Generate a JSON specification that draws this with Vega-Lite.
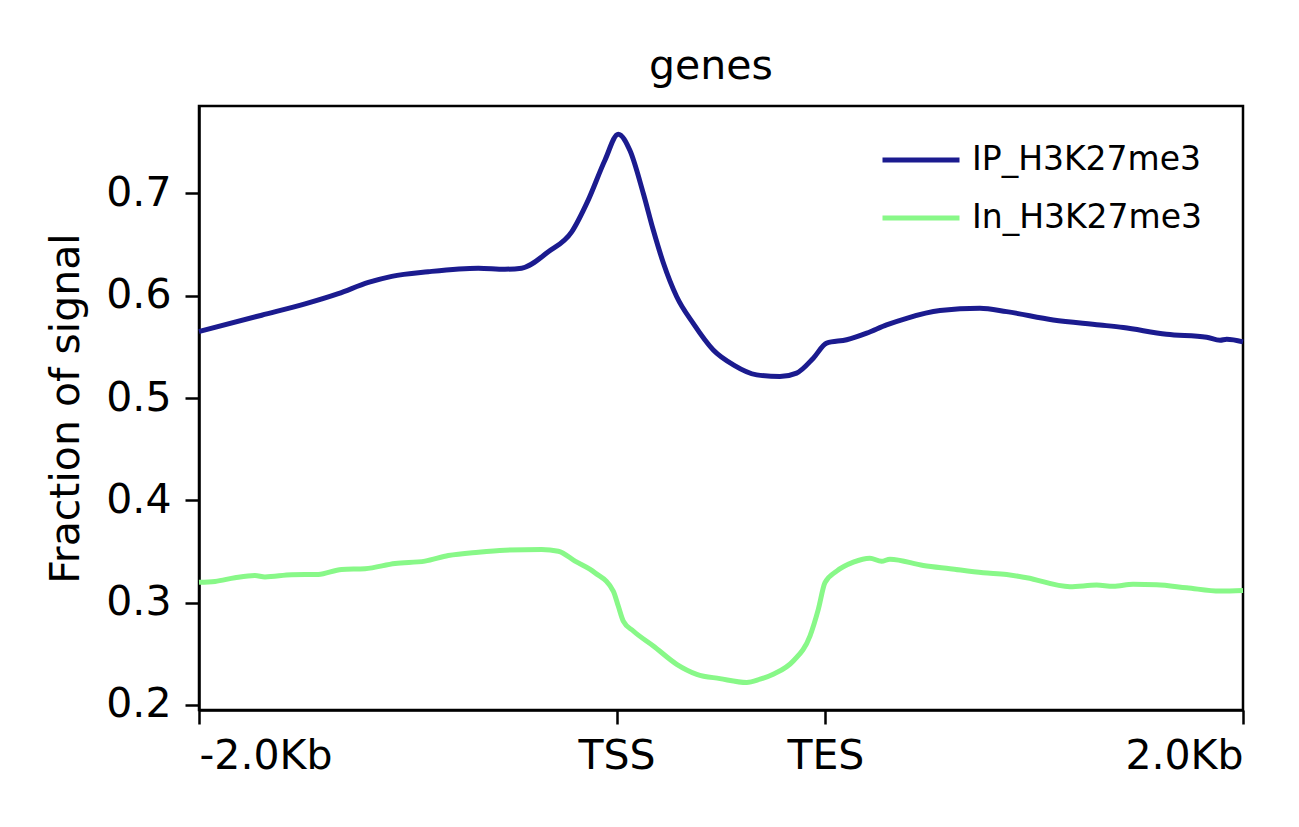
{
  "$schema": "https://vega.github.io/schema/vega-lite/v6.json",
  "width": 1044,
  "height": 604,
  "autosize": {"type": "none"},
  "padding": {"left": 199, "top": 106, "right": 56, "bottom": 117},
  "background": "white",
  "config": {
    "font": "DejaVu Sans",
    "view": {"stroke": "black", "strokeWidth": 2.5}
  },
  "title": {"text": "genes", "fontSize": 41, "fontWeight": "normal", "color": "black", "offset": 18, "dx": -10},
  "data": {
    "values": [
      {"sample": "IP_H3K27me3", "pos": -2000, "value": 0.565},
      {"sample": "IP_H3K27me3", "pos": -1700, "value": 0.581},
      {"sample": "IP_H3K27me3", "pos": -1492, "value": 0.592},
      {"sample": "IP_H3K27me3", "pos": -1333, "value": 0.602},
      {"sample": "IP_H3K27me3", "pos": -1189, "value": 0.613},
      {"sample": "IP_H3K27me3", "pos": -1077, "value": 0.619},
      {"sample": "IP_H3K27me3", "pos": -902, "value": 0.6235},
      {"sample": "IP_H3K27me3", "pos": -662, "value": 0.627},
      {"sample": "IP_H3K27me3", "pos": -535, "value": 0.626},
      {"sample": "IP_H3K27me3", "pos": -455, "value": 0.627},
      {"sample": "IP_H3K27me3", "pos": -327, "value": 0.643},
      {"sample": "IP_H3K27me3", "pos": -215, "value": 0.6625},
      {"sample": "IP_H3K27me3", "pos": -136, "value": 0.6935},
      {"sample": "IP_H3K27me3", "pos": -56, "value": 0.7325},
      {"sample": "IP_H3K27me3", "pos": 8, "value": 0.758},
      {"sample": "IP_H3K27me3", "pos": 64, "value": 0.742},
      {"sample": "IP_H3K27me3", "pos": 128, "value": 0.700},
      {"sample": "IP_H3K27me3", "pos": 176, "value": 0.664},
      {"sample": "IP_H3K27me3", "pos": 224, "value": 0.632},
      {"sample": "IP_H3K27me3", "pos": 288, "value": 0.599},
      {"sample": "IP_H3K27me3", "pos": 367, "value": 0.573},
      {"sample": "IP_H3K27me3", "pos": 463, "value": 0.547},
      {"sample": "IP_H3K27me3", "pos": 559, "value": 0.5325},
      {"sample": "IP_H3K27me3", "pos": 671, "value": 0.5227},
      {"sample": "IP_H3K27me3", "pos": 782, "value": 0.521},
      {"sample": "IP_H3K27me3", "pos": 862, "value": 0.5244},
      {"sample": "IP_H3K27me3", "pos": 942, "value": 0.539},
      {"sample": "IP_H3K27me3", "pos": 1006, "value": 0.5537},
      {"sample": "IP_H3K27me3", "pos": 1102, "value": 0.557},
      {"sample": "IP_H3K27me3", "pos": 1198, "value": 0.5634},
      {"sample": "IP_H3K27me3", "pos": 1293, "value": 0.5715},
      {"sample": "IP_H3K27me3", "pos": 1389, "value": 0.578},
      {"sample": "IP_H3K27me3", "pos": 1549, "value": 0.5855},
      {"sample": "IP_H3K27me3", "pos": 1740, "value": 0.5878},
      {"sample": "IP_H3K27me3", "pos": 1868, "value": 0.5845},
      {"sample": "IP_H3K27me3", "pos": 2091, "value": 0.5764},
      {"sample": "IP_H3K27me3", "pos": 2315, "value": 0.5715},
      {"sample": "IP_H3K27me3", "pos": 2427, "value": 0.5689},
      {"sample": "IP_H3K27me3", "pos": 2634, "value": 0.5624},
      {"sample": "IP_H3K27me3", "pos": 2826, "value": 0.5595},
      {"sample": "IP_H3K27me3", "pos": 2890, "value": 0.5565},
      {"sample": "IP_H3K27me3", "pos": 2922, "value": 0.5575},
      {"sample": "IP_H3K27me3", "pos": 3000, "value": 0.555},
      {"sample": "In_H3K27me3", "pos": -2000, "value": 0.320},
      {"sample": "In_H3K27me3", "pos": -1923, "value": 0.3208},
      {"sample": "In_H3K27me3", "pos": -1828, "value": 0.3244},
      {"sample": "In_H3K27me3", "pos": -1732, "value": 0.3266},
      {"sample": "In_H3K27me3", "pos": -1684, "value": 0.3252},
      {"sample": "In_H3K27me3", "pos": -1556, "value": 0.3273},
      {"sample": "In_H3K27me3", "pos": -1429, "value": 0.3276},
      {"sample": "In_H3K27me3", "pos": -1317, "value": 0.3325},
      {"sample": "In_H3K27me3", "pos": -1205, "value": 0.3332},
      {"sample": "In_H3K27me3", "pos": -1061, "value": 0.3383},
      {"sample": "In_H3K27me3", "pos": -918, "value": 0.3406},
      {"sample": "In_H3K27me3", "pos": -806, "value": 0.3461},
      {"sample": "In_H3K27me3", "pos": -662, "value": 0.3494},
      {"sample": "In_H3K27me3", "pos": -535, "value": 0.3513},
      {"sample": "In_H3K27me3", "pos": -359, "value": 0.352},
      {"sample": "In_H3K27me3", "pos": -279, "value": 0.3503},
      {"sample": "In_H3K27me3", "pos": -199, "value": 0.3406},
      {"sample": "In_H3K27me3", "pos": -104, "value": 0.3293},
      {"sample": "In_H3K27me3", "pos": -16, "value": 0.3113},
      {"sample": "In_H3K27me3", "pos": 8, "value": 0.2967},
      {"sample": "In_H3K27me3", "pos": 32, "value": 0.282},
      {"sample": "In_H3K27me3", "pos": 80, "value": 0.2723},
      {"sample": "In_H3K27me3", "pos": 176, "value": 0.2577},
      {"sample": "In_H3K27me3", "pos": 288, "value": 0.2398},
      {"sample": "In_H3K27me3", "pos": 384, "value": 0.230},
      {"sample": "In_H3K27me3", "pos": 495, "value": 0.2258},
      {"sample": "In_H3K27me3", "pos": 623, "value": 0.222},
      {"sample": "In_H3K27me3", "pos": 687, "value": 0.2252},
      {"sample": "In_H3K27me3", "pos": 750, "value": 0.230},
      {"sample": "In_H3K27me3", "pos": 846, "value": 0.243},
      {"sample": "In_H3K27me3", "pos": 926, "value": 0.2674},
      {"sample": "In_H3K27me3", "pos": 966, "value": 0.2935},
      {"sample": "In_H3K27me3", "pos": 998, "value": 0.3195},
      {"sample": "In_H3K27me3", "pos": 1054, "value": 0.3308},
      {"sample": "In_H3K27me3", "pos": 1134, "value": 0.3396},
      {"sample": "In_H3K27me3", "pos": 1213, "value": 0.3435},
      {"sample": "In_H3K27me3", "pos": 1269, "value": 0.3405},
      {"sample": "In_H3K27me3", "pos": 1309, "value": 0.3425},
      {"sample": "In_H3K27me3", "pos": 1469, "value": 0.3364},
      {"sample": "In_H3K27me3", "pos": 1597, "value": 0.3332},
      {"sample": "In_H3K27me3", "pos": 1756, "value": 0.3293},
      {"sample": "In_H3K27me3", "pos": 1868, "value": 0.3276},
      {"sample": "In_H3K27me3", "pos": 1964, "value": 0.3244},
      {"sample": "In_H3K27me3", "pos": 2171, "value": 0.3156},
      {"sample": "In_H3K27me3", "pos": 2299, "value": 0.3172},
      {"sample": "In_H3K27me3", "pos": 2379, "value": 0.3160},
      {"sample": "In_H3K27me3", "pos": 2474, "value": 0.3180},
      {"sample": "In_H3K27me3", "pos": 2586, "value": 0.3175},
      {"sample": "In_H3K27me3", "pos": 2730, "value": 0.3146},
      {"sample": "In_H3K27me3", "pos": 2890, "value": 0.3113},
      {"sample": "In_H3K27me3", "pos": 3000, "value": 0.312}
    ]
  },
  "mark": {"type": "line", "strokeWidth": 5, "interpolate": "monotone"},
  "encoding": {
    "x": {
      "field": "pos",
      "type": "quantitative",
      "scale": {"domain": [-2000, 3000], "nice": false, "zero": false},
      "axis": {
        "title": null,
        "grid": false,
        "values": [-2000, 0, 1000, 3000],
        "labelExpr": "datum.value == -2000 ? '-2.0Kb' : datum.value == 0 ? 'TSS' : datum.value == 1000 ? 'TES' : '2.0Kb'",
        "labelFlush": true,
        "labelFontSize": 41,
        "labelColor": "black",
        "labelPadding": 12,
        "tickSize": 14,
        "tickWidth": 2.5,
        "tickColor": "black",
        "domainColor": "black",
        "domainWidth": 2.5
      }
    },
    "y": {
      "field": "value",
      "type": "quantitative",
      "scale": {"domain": [0.1951, 0.7855], "nice": false, "zero": false},
      "axis": {
        "title": "Fraction of signal",
        "titleFontSize": 41,
        "titleFontWeight": "normal",
        "titleColor": "black",
        "titlePadding": 18,
        "grid": false,
        "values": [0.2, 0.3, 0.4, 0.5, 0.6, 0.7],
        "format": ".1f",
        "labelFontSize": 41,
        "labelColor": "black",
        "labelPadding": 14,
        "tickSize": 14,
        "tickWidth": 2.5,
        "tickColor": "black",
        "domainColor": "black",
        "domainWidth": 2.5
      }
    },
    "color": {
      "field": "sample",
      "type": "nominal",
      "scale": {"domain": ["IP_H3K27me3", "In_H3K27me3"], "range": ["#1b1b8f", "#88f888"]},
      "legend": {
        "title": null,
        "orient": "none",
        "legendX": 681,
        "legendY": 13,
        "symbolType": "stroke",
        "symbolSize": 5929,
        "symbolStrokeWidth": 5,
        "labelFontSize": 33,
        "labelColor": "black",
        "labelOffset": 10,
        "labelLimit": 400,
        "rowPadding": -26
      }
    }
  }
}
